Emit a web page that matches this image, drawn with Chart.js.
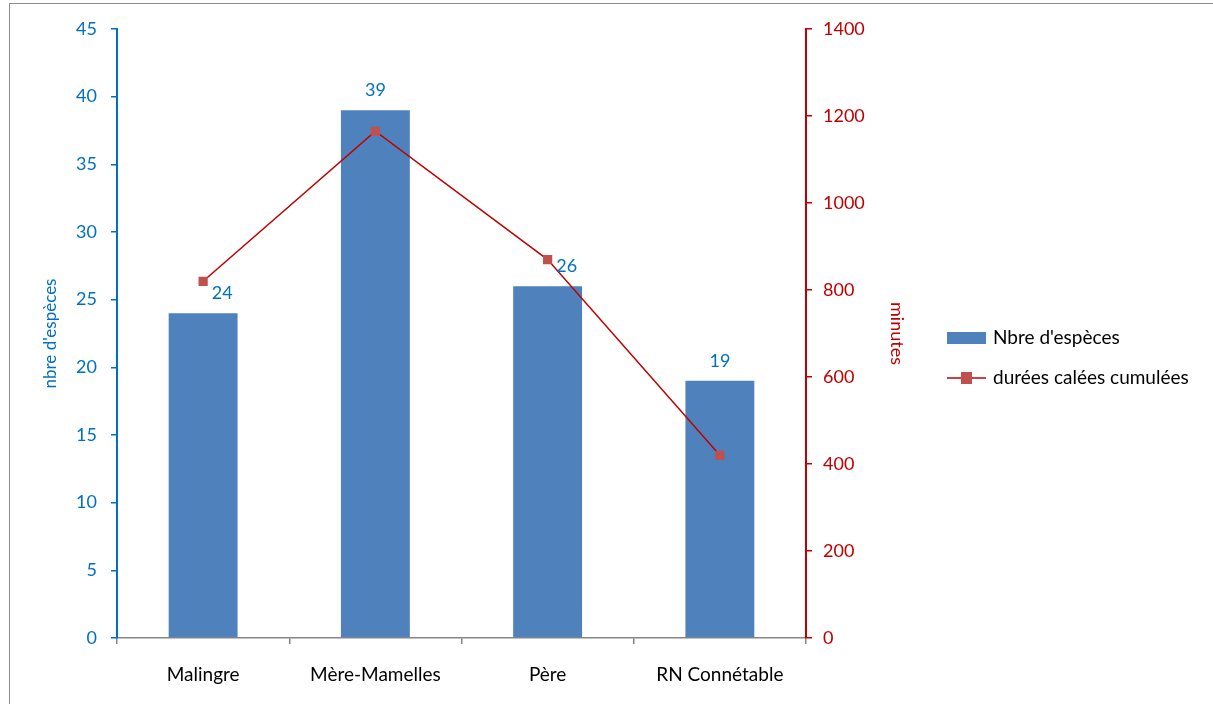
<!DOCTYPE html>
<html>
<head>
<meta charset="utf-8">
<script src="https://cdn.jsdelivr.net/npm/chart.js@4.4.1/dist/chart.umd.min.js"></script>
<style>
  html, body { margin: 0; padding: 0; background: #fff; overflow: hidden; }
  #wrap { position: absolute; left: 0; top: 0; width: 1213px; height: 704px; }
  #frame { position: absolute; left: 9px; top: 3px; width: 1300px; height: 800px; border: 1px solid #8c8c8c; pointer-events: none; }
</style>
</head>
<body>
<div id="wrap"><canvas id="c" width="1213" height="704"></canvas></div>
<div id="frame"></div>
<script>
const categories = ['Malingre', 'Mère-Mamelles', 'Père', 'RN Connétable'];
const especes = [24, 39, 26, 19];
const minutes = [820, 1165, 870, 420];
const leftTicks = [0, 5, 10, 15, 20, 25, 30, 35, 40, 45];
const rightTicks = [0, 200, 400, 600, 800, 1000, 1200, 1400];
const seriesNames = ["Nbre d'espèces", 'durées calées cumulées'];
const axisTitles = ["nbre d'espèces", 'minutes'];

const BLUE_TXT = '#0070C0';
const RED = '#C00000';
const BAR = '#4F81BD';
const MARK = '#C0504D';
const GRAY = '#868686';
const CAL = 'Lato, "Open Sans", sans-serif';

const labelsPlugin = {
  id: 'barLabels',
  afterDatasetsDraw(chart) {
    const ctx = chart.ctx;
    const barMeta = chart.getDatasetMeta(0);
    const lineMeta = chart.getDatasetMeta(1);
    ctx.save();
    ctx.font = '18px ' + CAL;
    ctx.fillStyle = BLUE_TXT;
    ctx.textAlign = 'center';
    ctx.textBaseline = 'middle';
    barMeta.data.forEach((el, i) => {
      let x = el.x, y = el.y - 20;
      const p = lineMeta.data[i];
      if (p && Math.abs(p.y - y) < 16 && Math.abs(p.x - x) < 20) x += 19;
      ctx.fillText(String(especes[i]), x, y);
    });
    ctx.restore();
  }
};

const legendPlugin = {
  id: 'customLegend',
  afterDraw(chart) {
    const ctx = chart.ctx;
    ctx.save();
    const lx = 947, tx = 993;
    const y1 = 338, y2 = 378;
    ctx.fillStyle = BAR;
    ctx.fillRect(lx, y1 - 6, 39, 12);
    ctx.strokeStyle = RED;
    ctx.lineWidth = 1.5;
    ctx.beginPath(); ctx.moveTo(lx, y2); ctx.lineTo(lx + 39, y2); ctx.stroke();
    ctx.fillStyle = MARK;
    ctx.fillRect(lx + 14, y2 - 6, 11, 12);
    ctx.fillStyle = '#000';
    ctx.font = '19px ' + CAL;
    ctx.textAlign = 'left';
    ctx.textBaseline = 'middle';
    ctx.fillText(seriesNames[0], tx, y1);
    ctx.fillText(seriesNames[1], tx, y2);
    ctx.restore();
  }
};

new Chart(document.getElementById('c'), {
  data: {
    labels: categories,
    datasets: [
      {
        type: 'bar', label: seriesNames[0], data: especes, yAxisID: 'y',
        backgroundColor: BAR, categoryPercentage: 0.4, barPercentage: 1, order: 1
      },
      {
        type: 'line', label: seriesNames[1], data: minutes, yAxisID: 'y1',
        borderColor: RED, borderWidth: 1.5, pointStyle: 'rect', pointRadius: 6.5,
        pointBackgroundColor: MARK, pointBorderColor: MARK, pointBorderWidth: 0,
        tension: 0, order: 0
      }
    ]
  },
  options: {
    responsive: false,
    animation: false,
    events: [],
    layout: { padding: { left: 40, right: 305, top: 29, bottom: 0 } },
    plugins: { legend: { display: false }, tooltip: { enabled: false } },
    scales: {
      x: {
        type: 'category',
        offset: true,
        afterFit(s) { s.height = 66; },
        border: { display: true, color: GRAY, width: 1.5 },
        grid: { offset: true, drawOnChartArea: false, drawTicks: true, tickLength: 6, color: GRAY, lineWidth: 1.5 },
        ticks: { color: '#000', font: { family: CAL, size: 19 }, padding: 19 }
      },
      y: {
        position: 'left', min: 0, max: 45,
        afterBuildTicks(s) { s.ticks = leftTicks.map(v => ({ value: v })); },
        afterFit(s) { s.width = 77; },
        border: { display: true, color: BLUE_TXT, width: 2 },
        grid: { drawOnChartArea: false, drawTicks: true, tickLength: 6, color: BLUE_TXT, lineWidth: 1.5 },
        ticks: { color: BLUE_TXT, font: { family: CAL, size: 18 }, padding: 14, callback: v => String(v) },
        title: { display: true, text: axisTitles[0], color: BLUE_TXT, font: { family: CAL, size: 17 }, padding: { top: 0, bottom: 0 } }
      },
      y1: {
        position: 'right', min: 0, max: 1400,
        afterBuildTicks(s) { s.ticks = rightTicks.map(v => ({ value: v })); },
        afterFit(s) { s.width = 102; },
        border: { display: true, color: RED, width: 2 },
        grid: { drawOnChartArea: false, drawTicks: true, tickLength: 6, color: RED, lineWidth: 1.5 },
        ticks: { color: RED, font: { family: CAL, size: 18 }, padding: 11, callback: v => String(v) },
        title: { display: true, text: axisTitles[1], color: RED, font: { family: CAL, size: 18 }, padding: { top: 0, bottom: 0 } }
      }
    }
  },
  plugins: [labelsPlugin, legendPlugin]
});
</script>
</body>
</html>
